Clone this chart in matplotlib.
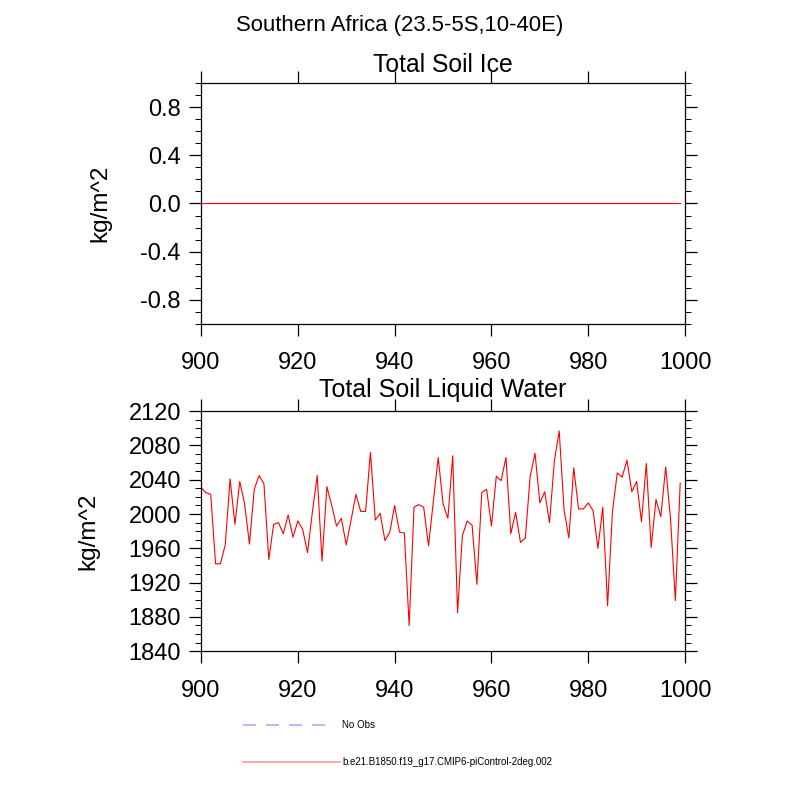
import matplotlib
matplotlib.use("Agg")
import matplotlib.pyplot as plt
from matplotlib.lines import Line2D
from matplotlib.ticker import MultipleLocator
import numpy as np

years = list(range(900, 1000))
soil_ice = [0.0] * 100
soil_liq = [
    2031, 2025, 2023, 1942, 1942, 1964, 2041, 1988, 2038, 2012,
    1965, 2029, 2045, 2035, 1947, 1988, 1990, 1977, 1999, 1973,
    1992, 1982, 1955, 2002, 2045, 1945, 2032, 2010, 1986, 1995,
    1964, 1993, 2023, 2003, 2003, 2072, 1993, 2001, 1969, 1979,
    2010, 1979, 1978, 1870, 2008, 2011, 2008, 1963, 2015, 2066,
    2012, 1995, 2068, 1885, 1975, 1992, 1987, 1918, 2025, 2029,
    1986, 2044, 2039, 2066, 1977, 2002, 1967, 1972, 2044, 2071,
    2013, 2026, 1990, 2062, 2097, 2005, 1972, 2054, 2006, 2006,
    2013, 2004, 1960, 2008, 1893, 2003, 2048, 2043, 2063, 2026,
    2038, 1991, 2059, 1961, 2017, 1997, 2055, 1995, 1899, 2036,
]
xticks = [900, 920, 940, 960, 980, 1000]
ice_ticks = [-0.8, -0.4, 0.0, 0.4, 0.8]
liq_ticks = [1840, 1880, 1920, 1960, 2000, 2040, 2080, 2120]

fig = plt.figure(figsize=(8, 8), dpi=100)
plt.rcParams['font.family'] = ['Liberation Sans', 'DejaVu Sans']

def style(ax, yticks, ylim, minor):
    ax.set_xlim(900, 1000)
    ax.set_ylim(*ylim)
    ax.set_xticks(xticks)
    ax.set_yticks(yticks)
    ax.yaxis.set_minor_locator(MultipleLocator(minor))
    ax.tick_params(axis='both', which='major', direction='out', length=8.5, width=0.9,
                   labelsize=17, top=True, right=True, colors='black')
    ax.tick_params(axis='x', which='major', pad=12)
    ax.tick_params(axis='y', which='major', pad=6)
    ax.tick_params(axis='y', which='minor', direction='out', length=4.5, width=0.7,
                   left=True, right=True)
    ax.tick_params(axis='x', which='minor', bottom=False, top=False)
    for s in ax.spines.values():
        s.set_linewidth(0.9)
    ax.set_ylabel('kg/m^2', fontsize=17.5, labelpad=21)

ax1 = fig.add_axes([0.2513, 0.595, 0.605, 0.3013])
ax1.plot(years, soil_ice, color='red', lw=0.8)
style(ax1, ice_ticks, (-1, 1), 0.1)
ax1.set_yticklabels([f'{v:.1f}' for v in ice_ticks])
ax1.set_title('Total Soil Ice', fontsize=17.8, pad=8)

ax2 = fig.add_axes([0.2513, 0.186, 0.605, 0.3])
ax2.plot(years, soil_liq, color='red', lw=0.8)
style(ax2, liq_ticks, (1840, 2120), 10)
ax2.set_title('Total Soil Liquid Water', fontsize=18, pad=10)

fig.text(0.5, 0.968, 'Southern Africa (23.5-5S,10-40E)', ha='center', va='center', fontsize=15.9)

fig.add_artist(Line2D([0.304, 0.41], [1 - 725 / 800] * 2, color='#aaaaff', lw=1.2,
                      linestyle=(0, (7.8, 6.0))))
fig.text(0.428, 1 - 725 / 800, 'No Obs', fontsize=7, va='center', ha='left')
fig.add_artist(Line2D([0.304, 0.425], [1 - 762 / 800] * 2, color='#ff9999', lw=1.2))
fig.text(0.428, 1 - 762 / 800, 'b.e21.B1850.f19_g17.CMIP6-piControl-2deg.002', fontsize=7,
         va='center', ha='left')

fig.savefig('out.png', dpi=100)
